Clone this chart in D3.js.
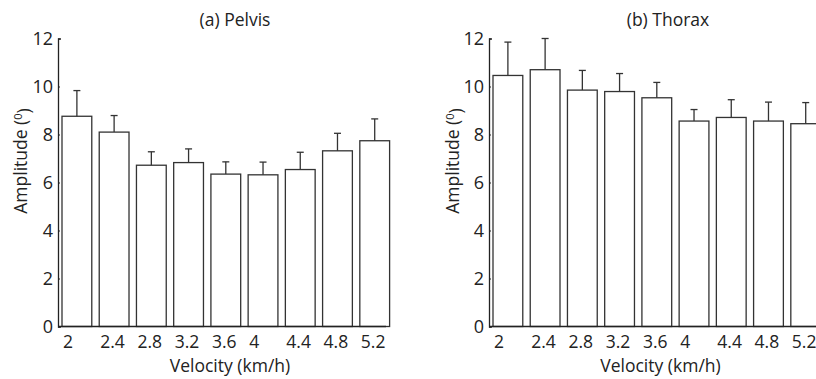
<!DOCTYPE html>
<html>
<head>
<meta charset="utf-8">
<script src="https://cdn.jsdelivr.net/npm/d3@7"></script>
<style>
  body { margin: 0; background: #fff; }
  svg text { font-family: "Open Sans", sans-serif; fill: #222; }
</style>
</head>
<body>
<script>
// velocities (km/h), shared by both panels
var velocities = ["2", "2.4", "2.8", "3.2", "3.6", "4", "4.4", "4.8", "5.2"];
var yTicks = [0, 2, 4, 6, 8, 10, 12];

// mean amplitude and SD
var pelvisMean = [8.76, 8.10, 6.72, 6.83, 6.35, 6.32, 6.54, 7.32, 7.74];
var pelvisSD   = [1.07, 0.69, 0.56, 0.57, 0.51, 0.53, 0.72, 0.73, 0.91];
var thoraxMean = [10.46, 10.70, 9.85, 9.79, 9.53, 8.56, 8.71, 8.56, 8.45];
var thoraxSD   = [1.39, 1.30, 0.82, 0.75, 0.64, 0.48, 0.74, 0.79, 0.88];

var width = 816, height = 379;

var svg = d3.select("body").append("svg")
  .attr("width", width)
  .attr("height", height);

function panel(left, right, title, titleX, means, sds, labelX) {
  var y = d3.scaleLinear().domain([0, 12]).range([326.5, 38.5]);
  var x = d3.scaleBand().domain(velocities)
    .range([left + 4, left + 4 + 36.4 * 9])
    .paddingInner(0.2).paddingOuter(0);

  var g = svg.append("g");

  // bars
  g.selectAll("rect.bar")
      .data(means)
    .enter().append("rect")
      .attr("class", "bar")
      .attr("x", function(d, i) { return x(velocities[i]); })
      .attr("y", function(d) { return y(d); })
      .attr("width", x.bandwidth())
      .attr("height", function(d) { return y(0) - y(d); })
      .style("fill", "#fff")
      .style("stroke", "#333")
      .style("stroke-width", 1.3);

  // error bars (upper only)
  var err = g.selectAll("g.err")
      .data(means)
    .enter().append("g")
      .attr("class", "err")
      .style("stroke", "#333")
      .style("stroke-width", 1.3);

  err.append("line")
      .attr("x1", function(d, i) { return x(velocities[i]) + x.bandwidth() / 2; })
      .attr("x2", function(d, i) { return x(velocities[i]) + x.bandwidth() / 2; })
      .attr("y1", function(d) { return y(d); })
      .attr("y2", function(d, i) { return y(d + sds[i]); });

  err.append("line")
      .attr("x1", function(d, i) { return x(velocities[i]) + x.bandwidth() / 2 - 3.5; })
      .attr("x2", function(d, i) { return x(velocities[i]) + x.bandwidth() / 2 + 3.5; })
      .attr("y1", function(d, i) { return y(d + sds[i]); })
      .attr("y2", function(d, i) { return y(d + sds[i]); });

  // y axis
  var yAxis = g.append("g")
      .attr("transform", "translate(" + left + ",0)")
      .call(d3.axisLeft(y).tickValues(yTicks).tickFormat(d3.format("d"))
        .tickSizeInner(-2).tickSizeOuter(-3).tickPadding(5));
  yAxis.select(".domain").style("stroke", "#222").style("stroke-width", 1.3);
  yAxis.selectAll(".tick line").style("stroke", "#222");
  yAxis.selectAll(".tick text").style("font-size", "18px").style("font-family", "Open Sans");

  // x axis line
  g.append("line")
      .attr("x1", left).attr("x2", right)
      .attr("y1", y(0)).attr("y2", y(0))
      .style("stroke", "#222").style("stroke-width", 1.3);

  // x tick labels (left-aligned near bar edge)
  g.selectAll("text.xlab")
      .data(velocities)
    .enter().append("text")
      .attr("class", "xlab")
      .attr("x", function(d) { return x(d) + 1; })
      .attr("y", 348)
      .style("font-size", "17.5px")
      .text(function(d) { return d; });

  g.append("text")
      .attr("x", (left + right) / 2 + 8)
      .attr("y", 372)
      .attr("text-anchor", "middle")
      .style("font-size", "17.5px")
      .text("Velocity (km/h)");

  var yl = g.append("text")
      .attr("transform", "translate(" + labelX + ",161) rotate(-90)")
      .attr("text-anchor", "middle")
      .attr("dy", "0.35em")
      .style("font-size", "17.5px");
  yl.append("tspan").text("Amplitude (");
  yl.append("tspan").attr("dy", "-0.45em").style("font-size", "11px").text("0");
  yl.append("tspan").attr("dy", "0.45em").text(")");

  g.append("text")
      .attr("x", titleX)
      .attr("y", 26)
      .attr("text-anchor", "middle")
      .style("font-size", "17.5px")
      .text(title);
}

panel(58, 386, "(a) Pelvis", 235, pelvisMean, pelvisSD, 21);
panel(489, 816, "(b) Thorax", 668, thoraxMean, thoraxSD, 453);
</script>
</body>
</html>
